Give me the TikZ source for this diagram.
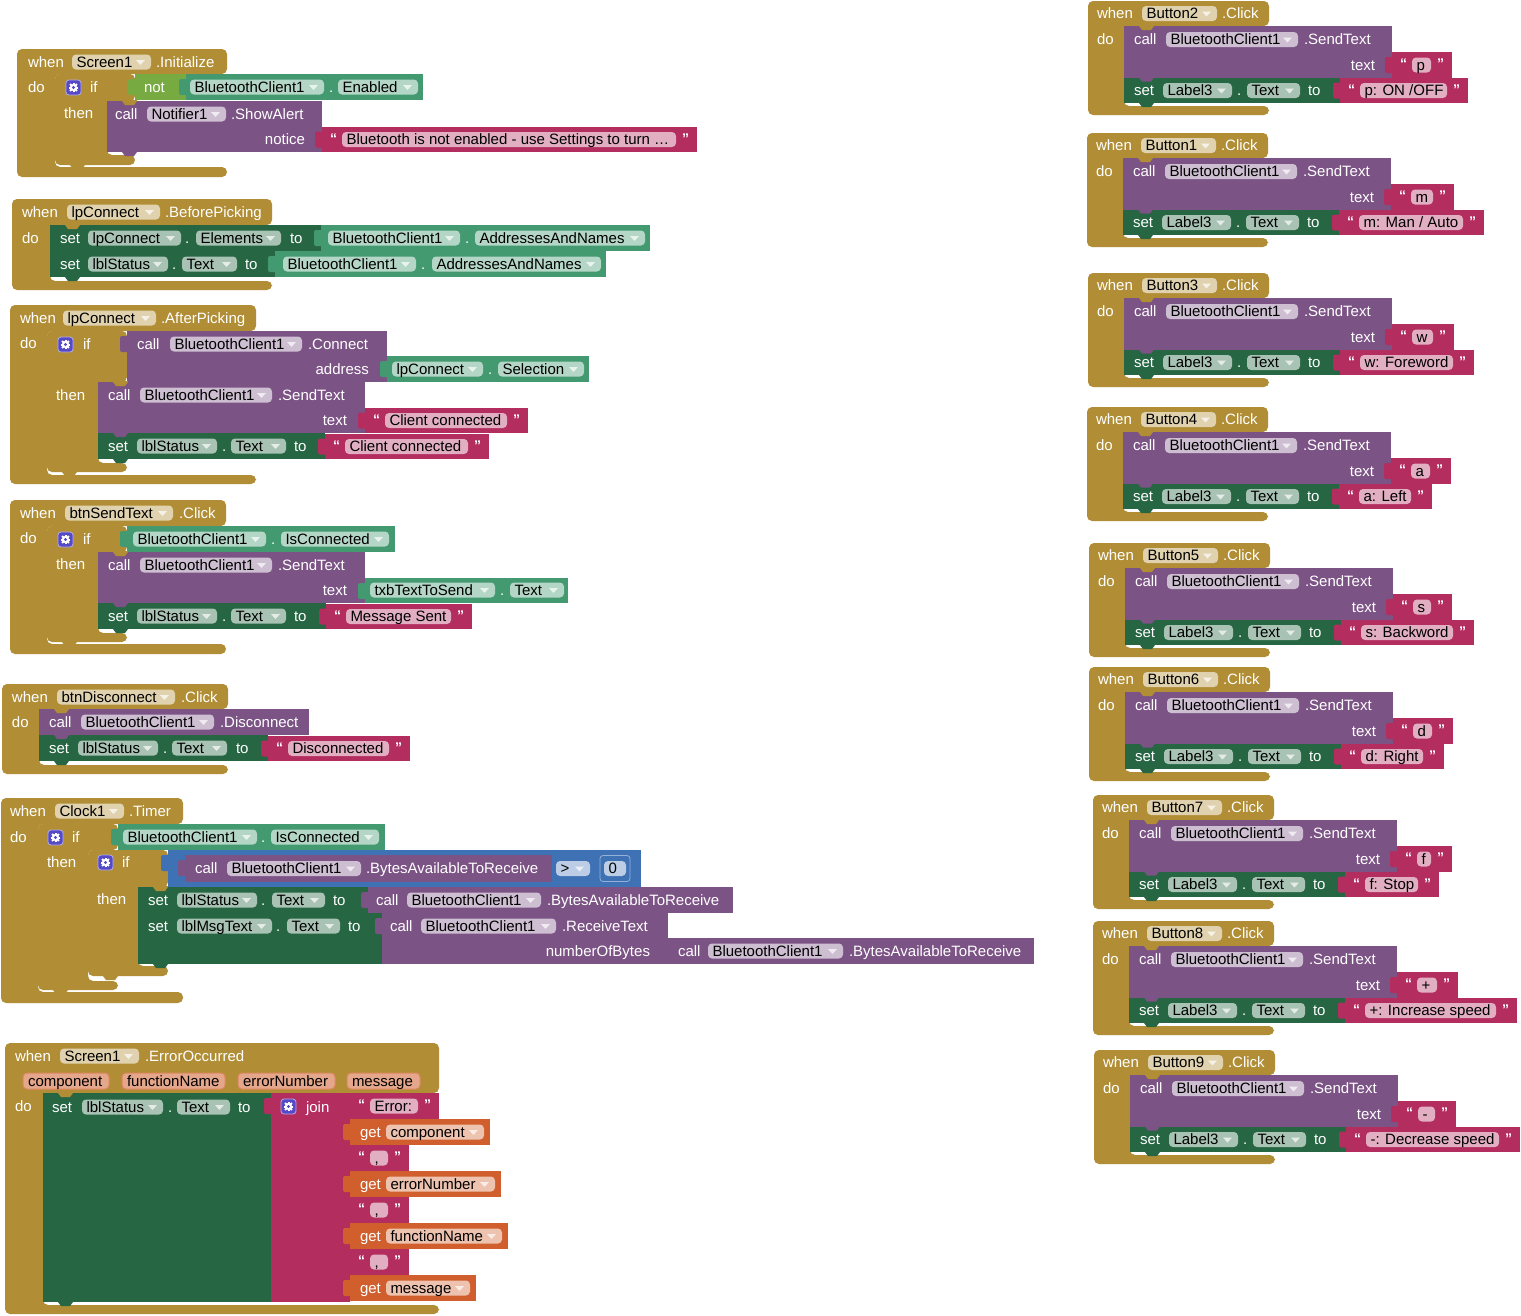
\documentclass[tikz,border=0pt]{standalone}
\usepackage{fontspec}
\setmainfont{Liberation Sans}
\usetikzlibrary{calc}

% block palette
\definecolor{evt}{HTML}{B18E35}
\definecolor{mth}{HTML}{7C5385}
\definecolor{setc}{HTML}{266643}
\definecolor{getc}{HTML}{439970}
\definecolor{txtc}{HTML}{B32D5E}
\definecolor{logc}{HTML}{77AB41}
\definecolor{mathc}{HTML}{3F71B5}
\definecolor{varc}{HTML}{D05F2D}
\definecolor{gearc}{HTML}{5649C8}
\colorlet{evtf}{evt!40!white}
\colorlet{mthf}{mth!38!white}
\colorlet{setf}{setc!40!white}
\colorlet{getf}{getc!40!white}
\colorlet{txtf}{txtc!38!white}
\colorlet{varf}{varc!38!white}
\colorlet{mathf}{mathc!35!white}
\colorlet{parf}{varc!55!white}

\newcount\nn
\tikzset{
  x=1pt, y=-1pt,
  every node/.style={inner sep=0pt, outer sep=0pt,
    font=\fontsize{15}{17}\selectfont, text height=10.8pt, text depth=0pt},
  lbl/.style={text=white},
  ftxt/.style={text=black},
  qstyle/.style={text=white, font=\fontsize{14}{14}\bfseries, text height=9pt},
}

% white label, left or right aligned
\newcommand\lbl[3]{\global\advance\nn by 1
  \node[lbl, anchor=west, name=n\the\nn] at (#1,#2) {#3};}
\newcommand\rlbl[3]{\global\advance\nn by 1
  \node[lbl, anchor=east, name=n\the\nn] at (#1,#2) {#3};}
% dropdown field: fill, x1, x2, y, text
\newcommand\fld[5]{%
  \fill[#1, rounded corners=4pt] (#2,#4-7.5) rectangle (#3,#4+7.5);
  \global\advance\nn by 1
  \node[ftxt, anchor=west, name=n\the\nn] at (#2+4.5,#4) {#5};
  \fill[white, opacity=.7] (#3-15,#4-2) -- (#3-6,#4-2) -- (#3-10.5,#4+3) -- cycle;}
% plain text field
\newcommand\sfld[5]{%
  \fill[#1, rounded corners=4pt] (#2,#4-7.5) rectangle (#3,#4+7.5);
  \global\advance\nn by 1
  \node[ftxt, anchor=west, name=n\the\nn] at (#2+4.5,#4) {#5};}
% parameter chip of an event
\newcommand\pfld[4]{%
  \fill[parf, draw=varc!75!white, line width=1pt, rounded corners=4pt] (#1,#3-8) rectangle (#2,#3+8);
  \global\advance\nn by 1
  \node[ftxt, anchor=west, name=n\the\nn] at (#1+5,#3) {#4};}
% quote marks
\newcommand\qt[3]{\global\advance\nn by 1
  \node[qstyle, anchor=west, name=n\the\nn] at (#1,#2) {#3};}
% input tab of a value block: colour, left x, top y
\newcommand\tab[3]{\fill[#1, rounded corners=2pt] (#2+2,#3+5) -- (#2-7,#3+5) -- (#2-7,#3+21) -- (#2+2,#3+21) -- cycle;}
% next-statement bump below a block: colour, block left x, bottom y
\newcommand\bump[3]{\fill[#1] (#2+15,#3-1) -- (#2+15,#3) -- (#2+18,#3+4) -- (#2+27,#3+4) -- (#2+30,#3) -- (#2+30,#3-1) -- cycle;}
% C-shaped block: colour, L, T, top-right x, inner top y, inner x, arm top y, bottom y, arm right x
\newcommand\cblk[9]{\fill[#1, rounded corners=5pt] (#2,#3) -- (#4,#3) -- (#4,#5) -- (#6,#5) -- (#6,#7) -- (#9,#7) -- (#9,#8) -- (#2,#8) -- cycle;}
% text string block: x1, top, x2, text
\newcommand\strb[4]{%
  \fill[txtc] (#1,#2) rectangle (#3,#2+25.5);
  \tab{txtc}{#1}{#2}
  \qt{#1+8}{#2+12}{“}
  \sfld{txtf}{#1+20}{#3-21}{#2+13}{#4}
  \qt{#3-15}{#2+12}{”}}
% component property getter body
\newcommand\getb[4]{\fill[getc] (#1,#2) rectangle (#3,#4); \tab{getc}{#1}{#2}}
% local variable getter: x1, top, x2, name
\newcommand\getv[4]{%
  \fill[varc] (#1,#2) rectangle (#3,#2+26);
  \tab{varc}{#1}{#2}
  \lbl{#1+10}{#2+13}{get}
  \fld{varf}{#1+36}{#3-6}{#2+13}{#4}}
% mutator gear icon
\newcommand\gear[2]{%
  \fill[gearc, rounded corners=3pt, draw=white!55!gearc, line width=0.8pt] (#1,#2) rectangle (#1+15,#2+15);
  \foreach \a in {0,45,90,135}
    \draw[white, line width=2pt] ($(#1+7.5,#2+7.5)+(\a:4.9)$) -- ($(#1+7.5,#2+7.5)+(\a+180:4.9)$);
  \fill[white] (#1+7.5,#2+7.5) circle (3.6pt);
  \fill[gearc] (#1+7.5,#2+7.5) circle (1.6pt);}
% button click handler: L, T, button, letter, right of letter block, label text, right of label block
\newcommand\btn[7]{%
  \cblk{evt}{#1}{#2}{#1+181}{#2+25}{#1+36}{#2+105}{#2+114}{#1+181}
  \lbl{#1+9}{#2+12.5}{when}
  \fld{evtf}{#1+54}{#1+129}{#2+12.5}{#3}
  \lbl{#1+134}{#2+12.5}{.Click}
  \lbl{#1+9}{#2+38}{do}
  \fill[mth] (#1+36,#2+25) rectangle (#1+304,#2+76.5);
  \lbl{#1+46}{#2+38.5}{call}
  \fld{mthf}{#1+78}{#1+210}{#2+38.5}{BluetoothClient1}
  \lbl{#1+216}{#2+38.5}{.SendText}
  \rlbl{#1+287}{#2+64}{text}
  \strb{#1+304}{#2+51}{#5}{#4}
  \fill[setc] (#1+36,#2+76.5) rectangle (#1+252,#2+102);
  \lbl{#1+46}{#2+89.5}{set}
  \fld{setf}{#1+75}{#1+144}{#2+89.5}{Label3}
  \lbl{#1+149}{#2+89.5}{.}
  \fld{setf}{#1+159}{#1+212}{#2+89.5}{Text}
  \lbl{#1+220}{#2+89.5}{to}
  \strb{#1+252}{#2+76.5}{#7}{#6}
  \bump{evt}{#1+36}{#2+25}
  \bump{mth}{#1+36}{#2+76.5}
  \bump{setc}{#1+36}{#2+102}}

\begin{document}
\begin{tikzpicture}
\fill[white] (0,0) rectangle (1521,1315);
\useasboundingbox (0,0) rectangle (1521,1315);

% ---- when Screen1.Initialize
\cblk{evt}{17}{49}{227}{74}{55}{167}{177}{227}
\lbl{28}{62}{when} \fld{evtf}{72}{151}{62}{Screen1} \lbl{156}{62}{.Initialize}
\lbl{28}{87}{do}
\cblk{evt}{55}{74}{135}{101}{107}{155}{165}{135}
\gear{66}{80} \lbl{90}{87}{if} \lbl{64}{113}{then}
\fill[logc] (135,74) rectangle (186,100); \tab{logc}{135}{74}
\lbl{144}{87}{not}
\getb{186}{74}{423}{100}
\fld{getf}{190}{324}{87}{BluetoothClient1} \lbl{329}{87}{.} \fld{getf}{338}{418}{87}{Enabled}
\fill[mth] (107,101) rectangle (322,152);
\lbl{115}{114}{call} \fld{mthf}{147}{226}{114}{Notifier1} \lbl{231}{114}{.ShowAlert}
\rlbl{305}{139}{notice}
\strb{322}{126.5}{697}{Bluetooth is not enabled - use Settings to turn …}
\bump{evt}{107}{101} \bump{mth}{107}{152} \bump{evt}{55}{165}

% ---- when lpConnect.BeforePicking
\cblk{evt}{12}{199}{272}{225}{50}{281}{290}{272}
\lbl{22}{212}{when} \fld{evtf}{67}{160}{212}{lpConnect} \lbl{165}{212}{.BeforePicking}
\lbl{22}{238}{do}
\fill[setc] (50,225) rectangle (321,251);
\lbl{60}{238}{set} \fld{setf}{88}{181}{238}{lpConnect} \lbl{185}{238}{.}
\fld{setf}{196}{281}{238}{Elements} \lbl{290}{238}{to}
\getb{321}{225}{650}{251}
\fld{getf}{328}{460}{238}{BluetoothClient1} \lbl{465}{238}{.} \fld{getf}{475}{645}{238}{AddressesAndNames}
\fill[setc] (50,251) rectangle (275,277);
\lbl{60}{264}{set} \fld{setf}{88}{168}{264}{lblStatus} \lbl{172}{264}{.}
\fld{setf}{182}{237}{264}{Text} \lbl{245}{264}{to}
\getb{275}{251}{606}{277}
\fld{getf}{283}{416}{264}{BluetoothClient1} \lbl{421}{264}{.} \fld{getf}{432}{601}{264}{AddressesAndNames}
\bump{evt}{50}{225} \bump{setc}{50}{251} \bump{setc}{50}{277}

% ---- when lpConnect.AfterPicking
\cblk{evt}{10}{305}{256}{331}{47}{475}{484}{256}
\lbl{20}{318}{when} \fld{evtf}{63}{156}{318}{lpConnect} \lbl{161}{318}{.AfterPicking}
\lbl{20}{343}{do}
\cblk{evt}{47}{331}{127}{382}{98}{463}{472}{127}
\gear{58}{337} \lbl{83}{344}{if} \lbl{56}{395}{then}
\fill[mth] (127,331) rectangle (387,382); \tab{mth}{127}{331}
\lbl{137}{344}{call} \fld{mthf}{170}{302}{344}{BluetoothClient1} \lbl{308}{344}{.Connect}
\rlbl{369}{369}{address}
\getb{387}{356}{589}{382}
\fld{getf}{392}{483}{369}{lpConnect} \lbl{488}{369}{.} \fld{getf}{498}{584}{369}{Selection}
\fill[mth] (98,382) rectangle (365,433);
\lbl{108}{395}{call} \fld{mthf}{140}{272}{395}{BluetoothClient1} \lbl{278}{395}{.SendText}
\rlbl{347}{420}{text}
\strb{365}{407.5}{528}{Client connected}
\fill[setc] (98,433) rectangle (325,459);
\lbl{108}{446}{set} \fld{setf}{137}{217}{446}{lblStatus} \lbl{222}{446}{.}
\fld{setf}{231}{286}{446}{Text} \lbl{294}{446}{to}
\strb{325}{433.5}{489}{Client connected}
\bump{evt}{98}{382} \bump{mth}{98}{433} \bump{setc}{98}{459} \bump{evt}{47}{472}

% ---- when btnSendText.Click
\cblk{evt}{10}{500}{226}{526}{47}{644}{654}{226}
\lbl{20}{513}{when} \fld{evtf}{65}{173}{513}{btnSendText} \lbl{179}{513}{.Click}
\lbl{20}{538}{do}
\cblk{evt}{47}{526}{127}{552}{98}{633}{642}{127}
\gear{58}{532} \lbl{83}{539}{if} \lbl{56}{564}{then}
\getb{127}{526}{395}{552}
\fld{getf}{133}{266}{539}{BluetoothClient1} \lbl{271}{539}{.} \fld{getf}{281}{389}{539}{IsConnected}
\fill[mth] (98,552) rectangle (365,603);
\lbl{108}{565}{call} \fld{mthf}{140}{272}{565}{BluetoothClient1} \lbl{278}{565}{.SendText}
\rlbl{347}{590}{text}
\getb{365}{578}{568}{603}
\fld{getf}{370}{495}{590}{txbTextToSend} \lbl{500}{590}{.} \fld{getf}{510}{564}{590}{Text}
\fill[setc] (98,603) rectangle (326,629);
\lbl{108}{616}{set} \fld{setf}{137}{217}{616}{lblStatus} \lbl{222}{616}{.}
\fld{setf}{231}{286}{616}{Text} \lbl{294}{616}{to}
\strb{326}{603.5}{472}{Message Sent}
\bump{evt}{98}{552} \bump{mth}{98}{603} \bump{setc}{98}{629} \bump{evt}{47}{642}

% ---- when btnDisconnect.Click
\cblk{evt}{2}{684}{228}{709}{39}{765}{774}{228}
\lbl{12}{697}{when} \fld{evtf}{57}{175}{697}{btnDisconnect} \lbl{181}{697}{.Click}
\lbl{12}{722}{do}
\fill[mth] (39,709) rectangle (309,735);
\lbl{49}{722}{call} \fld{mthf}{81}{214}{722}{BluetoothClient1} \lbl{220}{722}{.Disconnect}
\fill[setc] (39,735) rectangle (268,761);
\lbl{49}{748}{set} \fld{setf}{78}{158}{748}{lblStatus} \lbl{163}{748}{.}
\fld{setf}{172}{227}{748}{Text} \lbl{236}{748}{to}
\strb{268}{735.5}{410}{Disconnected}
\bump{evt}{39}{709} \bump{mth}{39}{735} \bump{setc}{39}{761}

% ---- when Clock1.Timer
\cblk{evt}{1}{798}{183}{824}{38}{992}{1003}{183}
\lbl{10}{811}{when} \fld{evtf}{55}{124}{811}{Clock1} \lbl{129}{811}{.Timer}
\lbl{10}{837}{do}
\cblk{evt}{38}{824}{118}{850}{88}{981}{990}{118}
\gear{48}{830} \lbl{72}{837}{if} \lbl{47}{862}{then}
\getb{118}{824}{385}{850}
\fld{getf}{123}{257}{837}{BluetoothClient1} \lbl{261}{837}{.} \fld{getf}{271}{379}{837}{IsConnected}
\cblk{evt}{88}{850}{168}{887}{138}{966}{976}{168}
\gear{98}{855} \lbl{122}{862}{if} \lbl{97}{899}{then}
\fill[mathc] (168,850) rectangle (641,887); \tab{mathc}{168}{850}
\fill[mth] (185,855) rectangle (552,882); \tab{mth}{185}{855}
\lbl{195}{868.5}{call} \fld{mthf}{227}{361}{868.5}{BluetoothClient1} \lbl{366}{868.5}{.BytesAvailableToReceive}
\fld{mathf}{556}{590}{868.5}{>}
\tab{mathc}{600}{855}
\draw[white!45!mathc, line width=0.8pt, rounded corners=3pt] (600,855.5) rectangle (630,881.5);
\sfld{mathf}{604}{626}{868.5}{0}
\fill[setc] (138,887) rectangle (368,913);
\lbl{148}{900}{set} \fld{setf}{177}{257}{900}{lblStatus} \lbl{261}{900}{.}
\fld{setf}{272}{325}{900}{Text} \lbl{333}{900}{to}
\fill[mth] (368,887) rectangle (733,913); \tab{mth}{368}{887}
\lbl{376}{900}{call} \fld{mthf}{407}{541}{900}{BluetoothClient1} \lbl{547}{900}{.BytesAvailableToReceive}
\fill[setc] (138,913) rectangle (382,964);
\lbl{148}{926}{set} \fld{setf}{177}{272}{926}{lblMsgText} \lbl{276}{926}{.}
\fld{setf}{287}{340}{926}{Text} \lbl{348}{926}{to}
\fill[mth] (382,913) rectangle (668,964); \tab{mth}{382}{913}
\lbl{390}{926}{call} \fld{mthf}{421}{556}{926}{BluetoothClient1} \lbl{562}{926}{.ReceiveText}
\rlbl{650}{951}{numberOfBytes}
\fill[mth] (668,938) rectangle (1034,964); \tab{mth}{668}{938}
\lbl{678}{951}{call} \fld{mthf}{708}{843}{951}{BluetoothClient1} \lbl{849}{951}{.BytesAvailableToReceive}
\bump{evt}{138}{887} \bump{setc}{138}{913} \bump{setc}{138}{964} \bump{evt}{88}{976} \bump{evt}{38}{990}

% ---- when Screen1.ErrorOccurred
\cblk{evt}{5}{1043}{439}{1093}{43}{1305}{1314}{439}
\lbl{15}{1056}{when} \fld{evtf}{60}{139}{1056}{Screen1} \lbl{145}{1056}{.ErrorOccurred}
\pfld{23}{109}{1081}{component} \pfld{122}{225}{1081}{functionName}
\pfld{238}{335}{1081}{errorNumber} \pfld{347}{420}{1081}{message}
\lbl{15}{1106}{do}
\fill[setc] (43,1093) rectangle (271,1302);
\lbl{52}{1107}{set} \fld{setf}{82}{163}{1107}{lblStatus} \lbl{168}{1107}{.}
\fld{setf}{177}{230}{1107}{Text} \lbl{238}{1107}{to}
\fill[txtc] (271,1093) rectangle (350,1302); \tab{txtc}{271}{1093}
\gear{281}{1099} \lbl{306}{1107}{join}
\strb{350}{1093}{439}{Error:}
\getv{350}{1119}{490}{component}
\strb{350}{1145}{409}{,}
\getv{350}{1171}{501}{errorNumber}
\strb{350}{1197}{409}{,}
\getv{350}{1223}{508}{functionName}
\strb{350}{1249}{409}{,}
\getv{350}{1275}{476}{message}
\bump{evt}{43}{1093} \bump{setc}{43}{1302}

% ---- button handlers
\btn{1088}{1}{Button2}{p}{1452}{p: ON /OFF}{1468}
\btn{1087}{133}{Button1}{m}{1454}{m: Man / Auto}{1484}
\btn{1088}{273}{Button3}{w}{1454}{w: Foreword}{1474}
\btn{1087}{407}{Button4}{a}{1451}{a: Left}{1432}
\btn{1089}{543}{Button5}{s}{1452}{s: Backword}{1474}
\btn{1089}{667}{Button6}{d}{1453}{d: Right}{1444}
\btn{1093}{795}{Button7}{f}{1452}{f: Stop}{1439}
\btn{1093}{921}{Button8}{+}{1458}{+: Increase speed}{1517}
\btn{1094}{1050}{Button9}{-}{1456}{-: Decrease speed}{1520}
\end{tikzpicture}
\end{document}
